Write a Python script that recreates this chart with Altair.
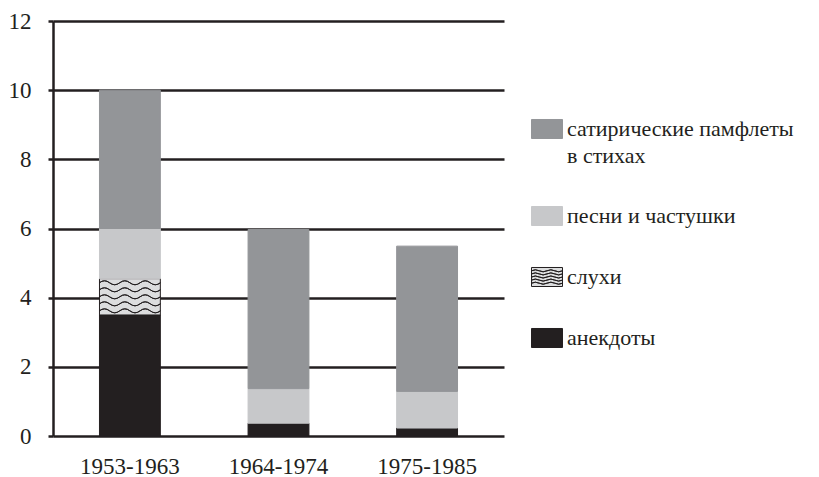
import altair as alt
import pandas as pd

periods = ["1953-1963", "1964-1974", "1975-1985"]
categories = ["анекдоты", "слухи", "песни и частушки", "сатирические памфлеты в стихах"]
anekdoty = [3.5, 0.37, 0.23]
sluhi = [1.05, 0.0, 0.0]
pesni = [1.45, 1.0, 1.06]
satira = [4.0, 4.6, 4.2]

legend_order = ["сатирические памфлеты в стихах", "песни и частушки", "слухи", "анекдоты"]
fill_colors = ["#939598", "#c7c8ca", "#dcddde", "#231f20"]
stroke_colors = ["#939598", "#c7c8ca", "#231f20", "#231f20"]

series = [anekdoty, sluhi, pesni, satira]
rows = []
for ci, (cat, vals) in enumerate(zip(categories, series)):
    for p, v in zip(periods, vals):
        rows.append({"period": p, "category": cat, "value": v, "order": ci})
df = pd.DataFrame(rows)

FONT = "'Liberation Serif', 'Times New Roman', 'DejaVu Serif', serif"
INK = "#231f20"


def waves(ys, amp, halfwaves):
    """Wave strokes drawn there and back along the same curve (zero-area fill)."""
    step = 2.0 / halfwaves
    parts = []
    for y in ys:
        xs = [-1 + i * step for i in range(halfwaves + 1)]
        ctrl = [y - amp if i % 2 == 0 else y + amp for i in range(halfwaves)]
        seg = f"M{xs[0]:.4f},{y}"
        for i in range(halfwaves):
            seg += f" Q{(xs[i] + xs[i + 1]) / 2:.4f},{ctrl[i]:.4f} {xs[i + 1]:.4f},{y}"
        for i in reversed(range(halfwaves)):
            seg += f" Q{(xs[i] + xs[i + 1]) / 2:.4f},{ctrl[i]:.4f} {xs[i]:.4f},{y}"
        parts.append(seg)
    return " ".join(parts)


legend_symbol = "M-1,-0.613H1V0.613H-1Z " + waves([-0.4, -0.2, 0, 0.2, 0.4], 0.13, 4)
bar_waves = waves([-0.46, -0.23, 0, 0.23, 0.46], 0.13, 6)

legend = alt.Legend(
    title=None,
    orient="none",
    legendX=478,
    legendY=92,
    symbolType=legend_symbol,
    symbolSize=961,
    symbolStrokeWidth=1,
    labelFont=FONT,
    labelFontSize=22,
    labelColor=INK,
    labelLimit=400,
    labelOffset=4,
    rowPadding=33,
    padding=0,
    labelExpr="datum.label == 'сатирические памфлеты в стихах' ? ['сатирические памфлеты', 'в стихах'] : datum.label",
)

base = alt.Chart(df).transform_stack(
    stack="value", groupby=["period"], as_=["y0", "y1"], sort=[alt.SortField("order", "ascending")]
)

x_enc = alt.X(
    "period:N",
    sort=periods,
    title=None,
    scale=alt.Scale(paddingInner=0.5904, paddingOuter=0.3128),
    axis=alt.Axis(labelAngle=0, domain=False, ticks=False, labelFont=FONT, labelFontSize=23,
                  labelColor=INK, labelPadding=19),
)

bars = base.mark_bar(strokeWidth=1).encode(
    x=x_enc,
    y=alt.Y(
        "y0:Q",
        title=None,
        scale=alt.Scale(domain=[0, 12], nice=False),
        axis=alt.Axis(values=[0, 2, 4, 6, 8, 10, 12], ticks=True, tickSize=5, tickWidth=2.5, tickColor=INK,
                      domainColor=INK, domainWidth=2.5,
                      gridColor=INK, gridWidth=2.5, gridOpacity=1, labelFont=FONT, labelFontSize=23,
                      labelColor=INK, labelPadding=17),
    ),
    y2="y1:Q",
    fill=alt.Fill("category:N", scale=alt.Scale(domain=legend_order, range=fill_colors), legend=legend),
    stroke=alt.Stroke("category:N", scale=alt.Scale(domain=legend_order, range=stroke_colors), legend=legend),
)

wave_layer = base.transform_filter(
    (alt.datum.category == "слухи") & (alt.datum.value > 0)
).transform_calculate(mid="(datum.y0 + datum.y1) / 2").mark_point(
    shape=bar_waves, size=3721, filled=False, stroke=INK, strokeWidth=1, opacity=1
).encode(
    x=alt.X("period:N", sort=periods),
    y=alt.Y("mid:Q"),
)

chart = alt.layer(bars, wave_layer).properties(
    width=451, height=415, padding={"top": 2, "left": 0, "right": 5, "bottom": 0}
).configure(
    style={"guide-label": {"lineHeight": 27}}
).configure_view(stroke=None)

chart.save("out.html", embed_options={"renderer": "svg", "actions": False})
